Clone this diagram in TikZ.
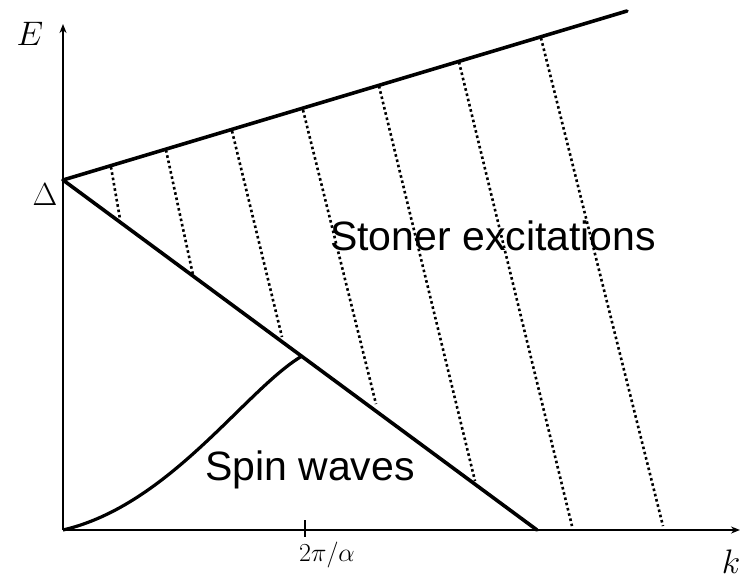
\RequirePackage{fix-cm}
\documentclass[tikz,border=0pt]{standalone}
\usepackage{fontspec}
\newfontfamily\labelfont{Liberation Sans}
\usetikzlibrary{arrows.meta}
\tikzset{
  axisline/.style={line width=2.8pt,-{Stealth[length=9pt,width=7pt]}},
  mainline/.style={line width=3.6pt,line cap=round},
  curveline/.style={line width=3.2pt},
  dotline/.style={line width=2.6pt,dash pattern=on 2.6pt off 2.8pt},
  bigtext/.style={font=\labelfont\fontsize{41}{45}\selectfont,inner sep=0pt,anchor=base west},
  mathlbl/.style={inner sep=0pt}
}
\begin{document}
\begin{tikzpicture}[x=1pt,y=-1pt]
\useasboundingbox (0,0) rectangle (740,582);
% key points
\coordinate (O) at (63,530);
\coordinate (Etop) at (63,24);
\coordinate (Kend) at (740,530);
\coordinate (D) at (63,180);
\coordinate (U) at (627,11);
\coordinate (L) at (537,530);
\coordinate (C) at (302,356);
\coordinate (tickT) at (305,520);
\coordinate (tickB) at (305,537);
% dotted line ends
\coordinate (t1) at (111,167); \coordinate (b1) at (120,219);
\coordinate (t2) at (166,150); \coordinate (b2) at (193,275);
\coordinate (t3) at (232,131); \coordinate (b3) at (282,337);
\coordinate (t4) at (303,110); \coordinate (b4) at (376,404);
\coordinate (t5) at (379,86);  \coordinate (b5) at (475,481);
\coordinate (t6) at (459,62);  \coordinate (b6) at (572,526);
\coordinate (t7) at (541,38);  \coordinate (b7) at (663,526);
% axes
\draw[axisline] (O) -- (Etop);
\draw[axisline] (O) -- (Kend);
\draw[line width=2.4pt] (tickT) -- (tickB);
% dotted hatching
\foreach \i in {1,...,7}{\draw[dotline] (t\i) -- (b\i);}
% main lines
\draw[mainline] (D) -- (U);
\draw[mainline] (D) -- (L);
% spin wave curve
\draw[curveline] (O) .. controls (170,505) and (245,390) .. (C);
% labels
\node[mathlbl,font=\fontsize{34}{38}\selectfont] (lE) at (30,34) {$E$};
\node[mathlbl,font=\fontsize{32}{36}\selectfont] (lD) at (45,195) {$\Delta$};
\node[mathlbl,font=\fontsize{34}{38}\selectfont] (lk) at (731,562) {$k$};
\node[mathlbl,font=\fontsize{26}{30}\selectfont] (lt) at (327,555) {$2\pi/\alpha$};
\node[bigtext] (st) at (330,250) {Stoner excitations};
\node[bigtext] (sw) at (205,480) {Spin waves};
\end{tikzpicture}
\end{document}
